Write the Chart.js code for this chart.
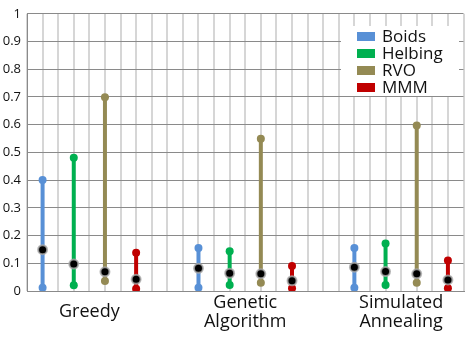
<!DOCTYPE html>
<html>
<head>
<meta charset="utf-8">
<script src="https://cdn.jsdelivr.net/npm/chart.js@4"></script>
<style>
  html, body { margin: 0; padding: 0; background: #fff; }
  #wrap { position: relative; width: 470px; height: 338px; }
  #legend {
    position: absolute; left: 341px; top: 26px; width: 118px; height: 70px;
    background: #fff; font-family: "Open Sans", sans-serif; font-size: 17px; color: #111;
  }
  #legend .row { position: absolute; left: 16px; height: 17px; line-height: 17px; white-space: nowrap; }
  #legend .box { display: inline-block; width: 18px; height: 9px; margin-right: 7px; vertical-align: 1px; }
</style>
</head>
<body>
<div id="wrap">
  <canvas id="chart"></canvas>
  <div id="legend"></div>
</div>
<script>
const categories = [['Greedy'], ['Genetic', 'Algorithm'], ['Simulated', 'Annealing']];
const categoryPos = [4, 14, 24];
const seriesNames = ['Boids', 'Helbing', 'RVO', 'MMM'];
const seriesColors = ['#5890D6', '#00B050', '#948A54', '#C00000'];

// per series: values for Greedy, Genetic Algorithm, Simulated Annealing
const boidsMax = [0.40, 0.155, 0.155];
const boidsMean = [0.149, 0.082, 0.086];
const boidsMin = [0.012, 0.012, 0.012];

const helbingMax = [0.481, 0.143, 0.171];
const helbingMean = [0.097, 0.064, 0.070];
const helbingMin = [0.021, 0.022, 0.022];

const rvoMax = [0.699, 0.549, 0.597];
const rvoMean = [0.069, 0.062, 0.062];
const rvoMin = [0.036, 0.030, 0.030];

const mmmMax = [0.138, 0.090, 0.110];
const mmmMean = [0.042, 0.037, 0.040];
const mmmMin = [0.008, 0.010, 0.010];

const yTicks = ['0', '0.1', '0.2', '0.3', '0.4', '0.5', '0.6', '0.7', '0.8', '0.9', '1'];

const maxes = [boidsMax, helbingMax, rvoMax, mmmMax];
const means = [boidsMean, helbingMean, rvoMean, mmmMean];
const mins = [boidsMin, helbingMin, rvoMin, mmmMin];

// x position of series s in group g
function xOf(s, g) { return categoryPos[g] - 3 + s * 2; }

const meanSets = [];
const rangeSets = [];
seriesNames.forEach(function (name, s) {
    const pts = [];
    const mpts = [];
    categories.forEach(function (c, g) {
        pts.push({ x: xOf(s, g), y: mins[s][g] });
        pts.push({ x: xOf(s, g), y: maxes[s][g] });
        pts.push({ x: xOf(s, g), y: null });
        mpts.push({ x: xOf(s, g), y: means[s][g] });
    });
    rangeSets.push({
        label: name,
        data: pts,
        borderColor: seriesColors[s],
        backgroundColor: seriesColors[s],
        borderWidth: 4,
        pointRadius: 4,
        pointBorderWidth: 0,
        spanGaps: false,
        order: 2
    });
    meanSets.push({
        label: name + ' mean',
        data: mpts,
        showLine: false,
        backgroundColor: '#000',
        borderColor: 'rgba(170,170,170,0.8)',
        borderWidth: 2,
        pointRadius: 4.5,
        order: 1
    });
});

// group names under the x axis, each block centred on the same line
const groupLabels = {
    id: 'groupLabels',
    afterDraw: function (chart) {
        const c = chart.ctx;
        const xs = chart.scales.x;
        c.save();
        c.fillStyle = '#111';
        c.font = '18px "Open Sans"';
        c.textAlign = 'center';
        c.textBaseline = 'middle';
        categories.forEach(function (lines, g) {
            const x = xs.getPixelForValue(categoryPos[g]);
            const y0 = 312 - (lines.length - 1) * 19 / 2;
            lines.forEach(function (t, k) { c.fillText(t, x, y0 + k * 19); });
        });
        c.restore();
    }
};

const ctx = document.getElementById('chart').getContext('2d');
new Chart(ctx, {
    type: 'line',
    data: { datasets: meanSets.concat(rangeSets) },
    plugins: [groupLabels],
    options: {
        responsive: true,
        maintainAspectRatio: false,
        animation: false,
        layout: { padding: { top: 11, right: 5, left: 0, bottom: 0 } },
        plugins: { legend: { display: false }, tooltip: { enabled: false } },
        scales: {
            x: {
                type: 'linear', min: 0, max: 28,
                afterFit: function (scale) { scale.height = 47; },
                grid: { color: '#d6d6d6', lineWidth: 2, drawTicks: false },
                border: { color: '#8a8a8a' },
                afterBuildTicks: function (scale) {
                    const t = [];
                    for (let i = 0; i <= 28; i++) t.push({ value: i });
                    scale.ticks = t;
                },
                ticks: { autoSkip: false, maxRotation: 0, callback: function () { return ''; } }
            },
            y: {
                min: 0, max: 1,
                afterFit: function (scale) { scale.width = 27; },
                grid: { color: '#8a8a8a', lineWidth: 1, drawTicks: false },
                border: { color: '#8a8a8a' },
                ticks: {
                    stepSize: 0.1, padding: 6, color: '#111',
                    font: { family: 'Open Sans', size: 13 },
                    callback: function (v, i) { return yTicks[i]; }
                }
            }
        }
    }
});

const legend = document.getElementById('legend');
seriesNames.forEach(function (name, s) {
    const row = document.createElement('div');
    row.className = 'row';
    row.style.top = (1 + s * 17) + 'px';
    row.innerHTML = '<span class="box" style="background:' + seriesColors[s] + '"></span>' + name;
    legend.appendChild(row);
});
</script>
</body>
</html>
